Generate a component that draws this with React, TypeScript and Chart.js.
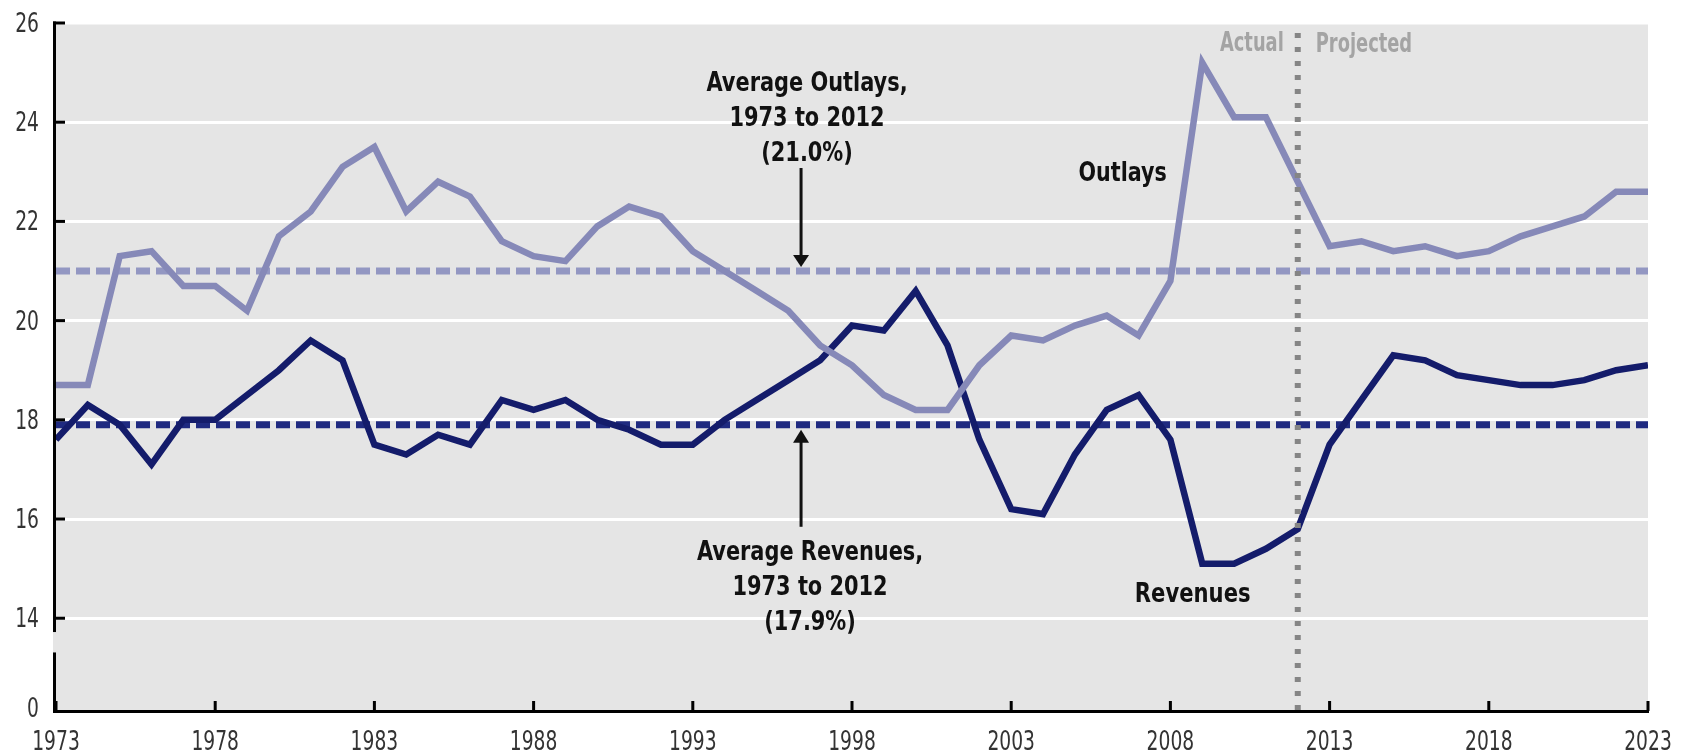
import React, { useEffect, useRef } from "react";
import { Chart, registerables } from "chart.js";

Chart.register(...registerables);

// ---------- data ----------
const years = [
  1973, 1974, 1975, 1976, 1977, 1978, 1979, 1980, 1981, 1982,
  1983, 1984, 1985, 1986, 1987, 1988, 1989, 1990, 1991, 1992,
  1993, 1994, 1995, 1996, 1997, 1998, 1999, 2000, 2001, 2002,
  2003, 2004, 2005, 2006, 2007, 2008, 2009, 2010, 2011, 2012,
  2013, 2014, 2015, 2016, 2017, 2018, 2019, 2020, 2021, 2022, 2023,
];

const outlays = [
  18.7, 18.7, 21.3, 21.4, 20.7, 20.7, 20.2, 21.7, 22.2, 23.1,
  23.5, 22.2, 22.8, 22.5, 21.6, 21.3, 21.2, 21.9, 22.3, 22.1,
  21.4, 21.0, 20.6, 20.2, 19.5, 19.1, 18.5, 18.2, 18.2, 19.1,
  19.7, 19.6, 19.9, 20.1, 19.7, 20.8, 25.2, 24.1, 24.1, 22.8,
  21.5, 21.6, 21.4, 21.5, 21.3, 21.4, 21.7, 21.9, 22.1, 22.6, 22.6,
];

const revenues = [
  17.6, 18.3, 17.9, 17.1, 18.0, 18.0, 18.5, 19.0, 19.6, 19.2,
  17.5, 17.3, 17.7, 17.5, 18.4, 18.2, 18.4, 18.0, 17.8, 17.5,
  17.5, 18.0, 18.4, 18.8, 19.2, 19.9, 19.8, 20.6, 19.5, 17.6,
  16.2, 16.1, 17.3, 18.2, 18.5, 17.6, 15.1, 15.1, 15.4, 15.8,
  17.5, 18.4, 19.3, 19.2, 18.9, 18.8, 18.7, 18.7, 18.8, 19.0, 19.1,
];

const avgOutlays = 21.0;
const avgRevenues = 17.9;

const yTickValues = [14, 16, 18, 20, 22, 24, 26];
const yGridValues = [14, 16, 18, 20, 22, 24];
const yBreakValue = 12.13; // axis break: this position is labelled "0"
const yBreakLabel = "0";
const xTickYears = [1973, 1978, 1983, 1988, 1993, 1998, 2003, 2008, 2013, 2018, 2023];

const splitYear = 2012;
const arrowYear = 1996.4;
const outlaysLabelPos = { x: 2006.5, y: 22.82 };
const revenuesLabelPos = { x: 2008.7, y: 14.32 };

const outlaysAvgText = ["Average Outlays,", "1973 to 2012", "(21.0%)"];
const revenuesAvgText = ["Average Revenues,", "1973 to 2012", "(17.9%)"];
const seriesLabels = ["Outlays", "Revenues"];
const periodLabels = ["Actual", "Projected"];

// ---------- styles ----------
const FONT_FAMILY = "'DejaVu Sans Condensed', 'DejaVu Sans', sans-serif";
const OUTLAY_COLOR = "#8689b8";
const REVENUE_COLOR = "#141c6b";
const OUTLAY_AVG_COLOR = "#9397c2";
const REVENUE_AVG_COLOR = "#1f2a80";
const PLOT_BG = "#e5e5e5";

function squeezeText(ctx: CanvasRenderingContext2D, text: string, x: number, y: number, align: CanvasTextAlign, sx: number) {
  ctx.save();
  ctx.translate(x, y);
  ctx.scale(sx, 1);
  ctx.textAlign = align;
  ctx.textBaseline = "alphabetic";
  ctx.fillText(text, 0, 0);
  ctx.restore();
}

export default function App() {
  const canvasRef = useRef<HTMLCanvasElement | null>(null);

  useEffect(() => {
    const canvas = canvasRef.current;
    if (!canvas) return;

    const decor = {
      id: "decor",
      beforeDraw(chart: any) {
        const { ctx, chartArea } = chart;
        ctx.save();
        ctx.fillStyle = PLOT_BG;
        ctx.fillRect(chartArea.left, chartArea.top + 1.5, chartArea.right - chartArea.left, chartArea.bottom - chartArea.top - 1.5);
        ctx.restore();
      },
      afterDatasetsDraw(chart: any) {
        const { ctx, chartArea, scales } = chart;
        const xs = scales.x;
        const ys = scales.y;
        const L = chartArea.left;
        const R = chartArea.right;
        const T = chartArea.top;
        const B = chartArea.bottom;
        ctx.save();

        // dotted actual/projected divider
        const sx = xs.getPixelForValue(splitYear);
        ctx.strokeStyle = "#858585";
        ctx.lineWidth = 6;
        ctx.setLineDash([5, 9]);
        ctx.beginPath();
        ctx.moveTo(sx, T + 10);
        ctx.lineTo(sx, B);
        ctx.stroke();
        ctx.setLineDash([]);

        // axes
        ctx.fillStyle = "#000";
        const breakTop = ys.getPixelForValue(14) + 14;
        const breakBot = breakTop + 20;
        ctx.fillRect(L - 3, T - 1.5, 3, breakTop - (T - 1.5));
        ctx.fillRect(L - 3, breakBot, 3, B + 2 - breakBot);
        ctx.fillStyle = PLOT_BG;
        ctx.fillRect(L - 3, breakTop, 3, breakBot - breakTop);
        ctx.fillStyle = "#000";
        ctx.fillRect(L - 3, B - 1, R - L + 4, 3);
        yTickValues.forEach((v) => {
          const py = ys.getPixelForValue(v);
          ctx.fillRect(L - 3, py - 1.5, 12, 3);
        });
        xTickYears.forEach((yr) => {
          const px = xs.getPixelForValue(yr);
          ctx.fillRect(px - 1.5, B - 10, 3, 10);
        });

        // tick labels
        ctx.fillStyle = "#333";
        ctx.font = `27px ${FONT_FAMILY}`;
        [yBreakValue, ...yTickValues].forEach((v) => {
          const py = ys.getPixelForValue(v);
          const label = v === yBreakValue ? yBreakLabel : String(v);
          squeezeText(ctx, label, L - 17, py + (v === yBreakValue ? 6 : 9), "right", 0.77);
        });
        xTickYears.forEach((yr) => {
          squeezeText(ctx, String(yr), xs.getPixelForValue(yr), B + 39, "center", 0.77);
        });

        // average annotations
        const ax = xs.getPixelForValue(arrowYear);
        const yo = ys.getPixelForValue(avgOutlays);
        const yr = ys.getPixelForValue(avgRevenues);
        ctx.fillStyle = "#111";
        ctx.strokeStyle = "#111";
        ctx.font = `bold 27px ${FONT_FAMILY}`;
        const oBase = [-180, -145, -110];
        outlaysAvgText.forEach((t, i) => squeezeText(ctx, t, ax + 6, yo + oBase[i], "center", 0.86));
        const rBase = [135, 170, 205];
        revenuesAvgText.forEach((t, i) => squeezeText(ctx, t, ax + 9, yr + rBase[i], "center", 0.86));

        ctx.lineWidth = 3;
        ctx.beginPath();
        ctx.moveTo(ax, yo - 103);
        ctx.lineTo(ax, yo - 12);
        ctx.stroke();
        ctx.beginPath();
        ctx.moveTo(ax - 8, yo - 16);
        ctx.lineTo(ax + 8, yo - 16);
        ctx.lineTo(ax, yo - 4);
        ctx.closePath();
        ctx.fill();

        ctx.beginPath();
        ctx.moveTo(ax, yr + 15);
        ctx.lineTo(ax, yr + 102);
        ctx.stroke();
        ctx.beginPath();
        ctx.moveTo(ax - 8, yr + 18);
        ctx.lineTo(ax + 8, yr + 18);
        ctx.lineTo(ax, yr + 5);
        ctx.closePath();
        ctx.fill();

        // series labels
        squeezeText(ctx, seriesLabels[0], xs.getPixelForValue(outlaysLabelPos.x), ys.getPixelForValue(outlaysLabelPos.y), "center", 0.85);
        squeezeText(ctx, seriesLabels[1], xs.getPixelForValue(revenuesLabelPos.x), ys.getPixelForValue(revenuesLabelPos.y), "center", 0.87);

        // actual / projected
        ctx.fillStyle = "#a4a4a4";
        ctx.font = `bold 27px ${FONT_FAMILY}`;
        squeezeText(ctx, periodLabels[0], sx - 14, T + 28, "right", 0.735);
        squeezeText(ctx, periodLabels[1], sx + 18, T + 29, "left", 0.735);

        ctx.restore();
      },
    };

    const chart = new Chart(canvas, {
      type: "line",
      data: {
        datasets: [
          {
            label: "Outlays",
            data: years.map((yr, i) => ({ x: yr, y: outlays[i] })),
            borderColor: OUTLAY_COLOR,
            borderWidth: 6.5,
            pointRadius: 0,
            tension: 0,
            order: 1,
          },
          {
            label: "Revenues",
            data: years.map((yr, i) => ({ x: yr, y: revenues[i] })),
            borderColor: REVENUE_COLOR,
            borderWidth: 6.5,
            pointRadius: 0,
            tension: 0,
            order: 1,
          },
          {
            label: "Average Outlays",
            data: [
              { x: years[0], y: avgOutlays },
              { x: years[years.length - 1], y: avgOutlays },
            ],
            borderColor: OUTLAY_AVG_COLOR,
            borderWidth: 7,
            borderDash: [14, 6],
            pointRadius: 0,
            order: 3,
          },
          {
            label: "Average Revenues",
            data: [
              { x: years[0], y: avgRevenues },
              { x: years[years.length - 1], y: avgRevenues },
            ],
            borderColor: REVENUE_AVG_COLOR,
            borderWidth: 7,
            borderDash: [14, 6],
            pointRadius: 0,
            order: 3,
          },
        ],
      },
      options: {
        responsive: false,
        maintainAspectRatio: false,
        animation: false,
        devicePixelRatio: 1,
        layout: { padding: { top: 23, right: 39, bottom: 0, left: 0 } },
        plugins: {
          legend: { display: false },
          tooltip: { enabled: false },
        },
        scales: {
          x: {
            type: "linear",
            min: years[0],
            max: years[years.length - 1],
            afterBuildTicks: (scale: any) => {
              scale.ticks = xTickYears.map((v) => ({ value: v }));
            },
            afterFit: (scale: any) => {
              scale.height = 41;
            },
            grid: { display: false, drawTicks: false },
            border: { display: false },
            ticks: { display: false, padding: 0 },
          },
          y: {
            type: "linear",
            min: yBreakValue,
            max: 26,
            afterBuildTicks: (scale: any) => {
              scale.ticks = [yBreakValue, ...yTickValues].map((v) => ({ value: v }));
            },
            afterFit: (scale: any) => {
              scale.width = 56;
            },
            grid: {
              drawTicks: false,
              lineWidth: 3,
              color: (c: any) =>
                c.tick && yGridValues.includes(c.tick.value) ? "#ffffff" : "rgba(0,0,0,0)",
            },
            border: { display: false },
            ticks: { display: false, padding: 0 },
          },
        },
      },
      plugins: [decor],
    } as any);

    return () => chart.destroy();
  }, []);

  return (
    <div style={{ position: "absolute", left: 0, top: 0, width: 1687, height: 752, background: "#fff" }}>
      <canvas ref={canvasRef} width={1687} height={752} style={{ display: "block", width: 1687, height: 752 }} />
    </div>
  );
}
